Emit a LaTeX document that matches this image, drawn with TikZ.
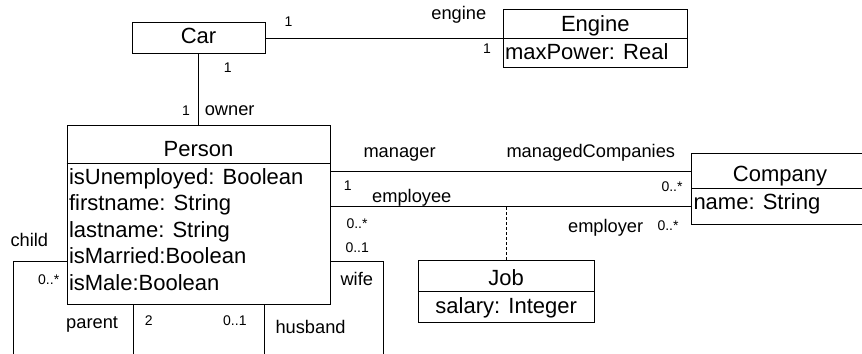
\documentclass[tikz,border=0pt]{standalone}
\usepackage{fontspec}
\setmainfont{Liberation Sans}
\usetikzlibrary{fit}

\begin{document}
\begin{tikzpicture}[x=0.75pt,y=0.75pt,yscale=-1,xscale=1,
  line width=0.75pt,
  classbox/.style={draw, inner sep=0pt},
  clsname/.style={anchor=base, inner sep=0pt, font=\fontsize{16.5}{18}\selectfont},
  attrtext/.style={anchor=base west, inner sep=0pt, font=\fontsize{16.5}{18}\selectfont},
  roletext/.style={anchor=base west, inner sep=0pt, font=\fontsize{13.7}{15}\selectfont},
  multtext/.style={anchor=base west, inner sep=0pt, font=\fontsize{10.5}{12}\selectfont}]
\useasboundingbox (0,0) rectangle (862,353);
\clip (0,0) rectangle (862,353);

%Shape: Car
\node[classbox, fit={(132.3,22.3) (265,54)}] (car) {};
\node[clsname] (carname) at (198.5,44) {Car};
%Shape: Engine
\node[classbox, fit={(503.3,9.3) (687.3,67.7)}] (engine) {};
\draw (engine.west |- 0,38.3) -- (engine.east |- 0,38.3);
\node[clsname] (enginename) at (595.3,31.7) {Engine};
\node[attrtext] (maxpower) at (504.5,59.3) {maxPower: Real};
%Shape: Person
\node[classbox, fit={(67,125.7) (330,304)}] (person) {};
\draw (person.west |- 0,163.3) -- (person.east |- 0,163.3);
\node[clsname] (personname) at (198.5,156) {Person};
\node[attrtext] (unemployed) at (68.5,184) {isUnemployed: Boolean};
\node[attrtext] (firstname) at (68.5,210.5) {firstname: String};
\node[attrtext] (lastname) at (68.5,237) {lastname: String};
\node[attrtext] (married) at (68.5,263.5) {isMarried:Boolean};
\node[attrtext] (male) at (68.5,290) {isMale:Boolean};
%Shape: Company
\node[classbox, fit={(691.7,153.3) (880,224)}] (company) {};
\draw (company.west |- 0,188.3) -- (company.east |- 0,188.3);
\node[clsname] (companyname) at (780,181) {Company};
\node[attrtext] (compname) at (693,209) {name: String};
%Shape: Job
\node[classbox, fit={(418.3,260) (594,322.7)}] (job) {};
\draw (job.west |- 0,291.7) -- (job.east |- 0,291.7);
\node[clsname] (jobname) at (506.2,285) {Job};
\node[clsname] (salary) at (506.2,313.3) {salary: Integer};

% Connection
\draw (car.east) -- (engine.west |- car.east);
\draw (car.south) -- (car.south |- person.north);
\draw (person.east |- 0,171.7) -- (company.west |- 0,171.7);
\draw (person.east |- 0,206.7) -- (company.west |- 0,206.7);
\draw [dash pattern={on 2.25pt off 1.5pt}] (job.north) -- (job.north |- 0,206.7);
% self associations, running off the bottom
\coordinate (childend) at (13.3,360);
\coordinate (wifeend) at (383.3,360);
\draw (person.west |- 0,261.7) -- (childend |- 0,261.7) -- (childend);
\draw (person.east |- 0,261.7) -- (wifeend |- 0,261.7) -- (wifeend);
\draw (person.south -| 133.3,0) -- (133.3,360);
\draw (person.south -| 264.3,0) -- (264.3,360);

% Text Node
\node[multtext] (carmult) at (284,27) {1};
\node[roletext, anchor=base east] (enginerole) at (486.7,20) {engine};
\node[multtext, anchor=base east] (enginemult) at (491.5,54) {1};
\node[multtext] (carmult2) at (223.3,73) {1};
\node[multtext] (ownermult) at (181.7,115) {1};
\node[roletext] (ownerrole) at (204.3,115) {owner};
\node[roletext] (managerrole) at (363,157.3) {manager};
\node[roletext] (managedrole) at (506,157) {managedCompanies};
\node[multtext] (managermult) at (343.3,190) {1};
\node[multtext] (managedmult) at (661,191) {0..*};
\node[roletext] (employeerole) at (371.7,202.7) {employee};
\node[multtext] (employeemult) at (346,228.3) {0..*};
\node[roletext] (employerrole) at (567.6,232.8) {employer};
\node[multtext] (employermult) at (657,230) {0..*};
\node[multtext] (wifemult) at (345,252.7) {0..1};
\node[roletext] (wiferole) at (340,285) {wife};
\node[roletext] (childrole) at (10,246.7) {child};
\node[multtext] (childmult) at (37.7,284) {0..*};
\node[roletext] (parentrole) at (65.7,328.3) {parent};
\node[multtext] (parentmult) at (144.3,325) {2};
\node[multtext] (husbandmult) at (222.7,325) {0..1};
\node[roletext] (husbandrole) at (275,333.3) {husband};

\end{tikzpicture}
\end{document}
